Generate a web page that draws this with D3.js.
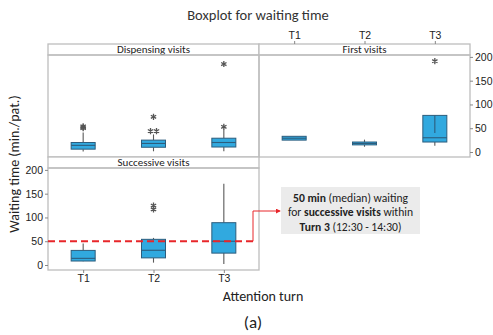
<!DOCTYPE html>
<html>
<head>
<meta charset="utf-8">
<script src="https://cdn.jsdelivr.net/npm/d3@7"></script>
<style>
  html, body { margin: 0; padding: 0; background: #fff; }
  svg { display: block; font-family: Carlito, Lato, "Open Sans", sans-serif; }
</style>
</head>
<body>
<svg id="chart" width="493" height="335"></svg>
<script>
// Attention turns (x categories) and y-axis ticks
const turns = ["T1", "T2", "T3"];
const yTicks = [0, 50, 100, 150, 200];

// Box statistics per turn: [low whisker, Q1, median, Q3, high whisker]
const dispensingStats = [[1, 6, 14, 20, 41], [1.5, 10, 18, 25, 37], [1.5, 10.5, 20, 29, 47]];
const firstStats      = [[25, 25, 29, 33, 33], [11, 15, 18, 21, 26], [13, 21, 30, 77, 77]];
const successiveStats = [[8, 8.4, 14, 30.7, 45], [5, 15, 31, 54, 57], [2, 25, 50, 89, 171]];

// Outliers per turn
const dispensingOutliers = [[50, 52, 54], [44, 44, 74], [53, 185]];
const firstOutliers      = [[], [], [191]];
const successiveOutliers = [[], [117, 125], []];

// Extra spine drawn inside the First visits T3 box
const firstT3Spine = [40, 77];

// Highlighted median (successive visits, turn 3)
const highlightMedian = 50;

const svg = d3.select("#chart");
const W = 211, H = 113, stripH = 11;
const left0 = 48, top0 = 44;

const panels = [
  { name: "Dispensing visits", stats: dispensingStats, outliers: dispensingOutliers, col: 0, row: 0 },
  { name: "First visits", stats: firstStats, outliers: firstOutliers, col: 1, row: 0 },
  { name: "Successive visits", stats: successiveStats, outliers: successiveOutliers, col: 0, row: 1 }
];

const boxFill = "#31a9df", boxStroke = "#2c5d7d", whisk = "#5a5a5a", frame = "#bdbdbd";

function panelGeom(p) {
  const x0 = left0 + p.col * W, y0 = top0 + p.row * H;
  const x = d3.scalePoint().domain(turns).range([x0, x0 + W]).padding(0.5);
  const y = d3.scaleLinear().domain([-10.5, 204]).range([y0 + H, y0 + stripH]);
  return { x0, y0, x, y };
}

panels.forEach(p => {
  const g = panelGeom(p);
  const pg = svg.append("g");
  // strip header
  pg.append("rect").attr("x", g.x0).attr("y", g.y0).attr("width", W).attr("height", stripH)
    .attr("fill", "#fff").attr("stroke", frame).attr("stroke-width", 1.3);
  pg.append("text").attr("x", g.x0 + W / 2).attr("y", g.y0 + stripH / 2 + 3.8)
    .attr("text-anchor", "middle").attr("font-size", 11).attr("fill", "#222").text(p.name);
  // panel frame
  pg.append("rect").attr("x", g.x0).attr("y", g.y0 + stripH).attr("width", W).attr("height", H - stripH)
    .attr("fill", "none").attr("stroke", frame).attr("stroke-width", 1.3);

  const bw = 24;
  p.stats.forEach((s, i) => {
    const cx = g.x(turns[i]);
    const [lo, q1, med, q3, hi] = s;
    // whiskers
    pg.append("line").attr("x1", cx).attr("x2", cx).attr("y1", g.y(q3)).attr("y2", g.y(hi))
      .attr("stroke", whisk).attr("stroke-width", 1.1);
    pg.append("line").attr("x1", cx).attr("x2", cx).attr("y1", g.y(q1)).attr("y2", g.y(lo))
      .attr("stroke", whisk).attr("stroke-width", 1.1);
    // box
    pg.append("rect").attr("x", cx - bw / 2).attr("y", g.y(q3)).attr("width", bw)
      .attr("height", Math.max(g.y(q1) - g.y(q3), 1))
      .attr("fill", boxFill).attr("stroke", boxStroke).attr("stroke-width", 1);
    pg.append("line").attr("x1", cx - bw / 2).attr("x2", cx + bw / 2).attr("y1", g.y(med)).attr("y2", g.y(med))
      .attr("stroke", boxStroke).attr("stroke-width", 1.1);
    if (p.name === "First visits" && i === 2) {
      pg.append("line").attr("x1", cx).attr("x2", cx)
        .attr("y1", g.y(firstT3Spine[0])).attr("y2", g.y(firstT3Spine[1]))
        .attr("stroke", boxStroke).attr("stroke-width", 1.1);
    }
    // outliers (ties spread side by side)
    const counts = d3.rollup(p.outliers[i], v => v.length, d => d);
    const seen = new Map();
    p.outliers[i].forEach(v => {
      const n = counts.get(v), k = seen.get(v) || 0;
      seen.set(v, k + 1);
      const dx = (k - (n - 1) / 2) * 6;
      pg.append("path").attr("d", d3.symbol(d3.symbolAsterisk, 26)())
        .attr("transform", `translate(${cx + dx},${g.y(v)})`)
        .attr("fill", "none").attr("stroke", "#555").attr("stroke-width", 1.3);
    });
  });
});

// axes
const gTR = panelGeom(panels[1]);
const gBL = panelGeom(panels[2]);

const axisStyle = sel => {
  sel.select(".domain").remove();
  sel.selectAll(".tick line").attr("stroke", "#888");
  sel.selectAll(".tick text").attr("fill", "#222").attr("font-size", 10.5);
};

// right y-axis of First visits
svg.append("g").attr("transform", `translate(${gTR.x0 + W},0)`)
  .call(d3.axisRight(gTR.y).tickValues(yTicks).tickSize(3).tickPadding(2))
  .call(axisStyle);

// left y-axis of Successive visits
svg.append("g").attr("transform", `translate(${gBL.x0},0)`)
  .call(d3.axisLeft(gBL.y).tickValues(yTicks).tickSize(3).tickPadding(2))
  .call(axisStyle);

// top x-axis above First visits
svg.append("g").attr("transform", `translate(0,${gTR.y0})`)
  .call(d3.axisTop(gTR.x).tickSize(3).tickPadding(2))
  .call(axisStyle);

// bottom x-axis below Successive visits
svg.append("g").attr("transform", `translate(0,${gBL.y0 + H})`)
  .call(d3.axisBottom(gBL.x).tickSize(3).tickPadding(2))
  .call(axisStyle);

// titles
svg.append("text").attr("x", 258).attr("y", 20).attr("text-anchor", "middle")
  .attr("font-size", 14.5).attr("fill", "#333").text("Boxplot for waiting time");
svg.append("text").attr("transform", "translate(19,164) rotate(-90)").attr("text-anchor", "middle")
  .attr("font-size", 14).attr("fill", "#222").text("Waiting time (min./pat.)");
svg.append("text").attr("x", 263).attr("y", 301).attr("text-anchor", "middle")
  .attr("font-size", 14).attr("fill", "#222").text("Attention turn");
svg.append("text").attr("x", 253).attr("y", 328).attr("text-anchor", "middle")
  .attr("font-size", 17).attr("fill", "#222").text("(a)");

// highlighted median line across the Successive visits panel
const yMed = gBL.y(highlightMedian);
svg.append("line").attr("x1", gBL.x0).attr("x2", gBL.x0 + W - 2).attr("y1", yMed).attr("y2", yMed)
  .attr("stroke", "#e8262a").attr("stroke-width", 2.2).attr("stroke-dasharray", "7,4");

// annotation box
const ann = { x: 281, y: 187, w: 139, h: 47 };
svg.append("defs").append("marker").attr("id", "arr").attr("viewBox", "0 0 6 6")
  .attr("refX", 5).attr("refY", 3).attr("markerWidth", 5).attr("markerHeight", 5).attr("orient", "auto")
  .append("path").attr("d", "M0,0 L6,3 L0,6 Z").attr("fill", "#e8262a");
svg.append("path")
  .attr("d", `M${gBL.x0 + W - 6},${yMed} V${ann.y + 24} H${ann.x - 1}`)
  .attr("fill", "none").attr("stroke", "#e8262a").attr("stroke-width", 1).attr("marker-end", "url(#arr)");
svg.append("rect").attr("x", ann.x).attr("y", ann.y).attr("width", ann.w).attr("height", ann.h)
  .attr("fill", "#ebebeb");

const lines = [
  [["50 min", true], [" (median) waiting", false]],
  [["for ", false], ["successive visits", true], [" within", false]],
  [["Turn 3", true], [" (12:30 - 14:30)", false]]
];
lines.forEach((ln, i) => {
  const t = svg.append("text").attr("x", ann.x + ann.w / 2).attr("y", ann.y + 14.5 + i * 14.5)
    .attr("text-anchor", "middle").attr("font-size", 11.6).attr("fill", "#222");
  ln.forEach(([s, b]) => t.append("tspan").attr("font-weight", b ? "bold" : "normal").text(s));
});
</script>
</body>
</html>
